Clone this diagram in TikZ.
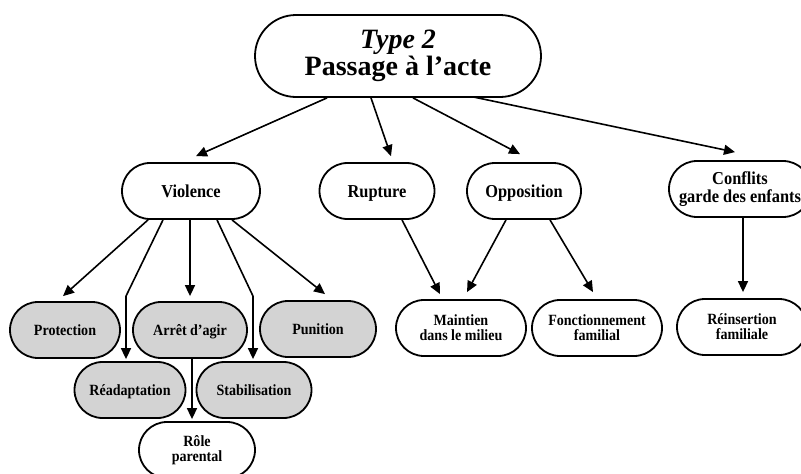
\documentclass[tikz,border=0pt]{standalone}
\usepackage{fontspec}
\setmainfont{Liberation Serif}
\newfontfamily\etroite{Liberation Serif}[FakeStretch=0.9]
\usepackage{tikz}
\usetikzlibrary{shapes.misc, arrows.meta}
\definecolor{colorG}{HTML}{D3D3D3}

\tikzset{
  bulle/.style={rounded rectangle, draw=black, line width=1.8pt, fill=white,
    minimum height=56pt, inner sep=2pt, align=center},
  grande/.style={bulle, font=\etroite\fontsize{18.2}{17.5}\selectfont\bfseries},
  petite/.style={bulle, font=\etroite\fontsize{15.6}{15}\selectfont\bfseries},
  grise/.style={petite, fill=colorG},
  ligneG/.style={text height=13pt, text depth=1pt},
  ligneP/.style={text height=11pt, text depth=1pt},
  fleche/.style={line width=1.6pt, -{Triangle[length=11pt,width=10pt]}}
}

\begin{document}
\begin{tikzpicture}[x=1pt, y=-1pt]
        \useasboundingbox (0,0) rectangle (801,474);
        % racine
        \node[bulle, minimum width=290pt, minimum height=82pt,
              font=\fontsize{28}{25}\selectfont\bfseries] (top) at (398,56)
              {\textit{Type 2}\\Passage à l’acte};
        % deuxieme niveau
        \node[grande, ligneG, minimum width=142pt] (viol) at (191,191) {Violence};
        \node[grande, ligneG, minimum width=119pt] (rup) at (377,191) {Rupture};
        \node[grande, ligneG, minimum width=118pt] (opp) at (524,191) {Opposition};
        \node[grande, minimum width=146pt] (conf) at (740,189) {Conflits\\garde des enfants};
        % troisieme niveau
        \node[grise, ligneP, minimum width=114pt] (prot) at (65,330) {Protection};
        \node[grise, ligneP, minimum width=118pt] (arret) at (190,330) {Arrêt d’agir};
        \node[grise, ligneP, minimum width=120pt] (pun) at (318,329) {Punition};
        \node[grise, ligneP, minimum width=115pt] (read) at (130,390) {Réadaptation};
        \node[grise, ligneP, minimum width=119pt] (stab) at (254,390) {Stabilisation};
        \node[petite, minimum width=120pt] (role) at (197,450) {Rôle\\parental};
        \node[petite, minimum width=134pt] (main) at (461,328) {Maintien\\dans le milieu};
        \node[petite, minimum width=134pt] (fonc) at (597,328) {Fonctionnement\\familial};
        \node[petite, minimum width=134pt] (rein) at (742,327) {Réinsertion\\familiale};

        \draw[fleche] ([xshift=-71pt]top.south) -- ([xshift=5pt,yshift=6pt]viol.north);
        \draw[fleche] ([xshift=-27pt]top.south) -- ([xshift=14pt,yshift=6pt]rup.north);
        \draw[fleche] ([xshift=15pt]top.south) -- ([xshift=-4pt,yshift=8pt]opp.north);
        \draw[fleche] ([xshift=75pt,yshift=1pt]top.south) -- ([xshift=-5pt,yshift=8pt]conf.north);

        \draw[fleche] ([xshift=-43pt]viol.south) -- ([xshift=-2pt,yshift=5pt]prot.north);
        \draw[fleche] ([xshift=-28pt]viol.south) -- ([xshift=-4pt,yshift=65pt]read.north)
                      -- ([xshift=-4pt,yshift=2pt]read.north);
        \draw[fleche] ([xshift=-1pt]viol.south) -- ([yshift=5pt]arret.north);
        \draw[fleche] ([xshift=26pt]viol.south) -- ([xshift=-1pt,yshift=65pt]stab.north)
                      -- ([xshift=-1pt,yshift=2pt]stab.north);
        \draw[fleche] ([xshift=41pt]viol.south) -- ([xshift=7pt,yshift=6pt]pun.north);
        \draw[fleche] ([xshift=2pt]arret.south) -- ([xshift=-5pt,yshift=2pt]role.north);

        \draw[fleche] ([xshift=25pt]rup.south) -- ([xshift=-21pt,yshift=5pt]main.north);
        \draw[fleche] ([xshift=-18pt]opp.south) -- ([xshift=6pt,yshift=7pt]main.north);
        \draw[fleche] ([xshift=26pt]opp.south) -- ([xshift=-4pt,yshift=7pt]fonc.north);
        \draw[fleche] ([xshift=3pt]conf.south) -- ([xshift=1pt,yshift=6pt]rein.north);
    \end{tikzpicture}
\end{document}
